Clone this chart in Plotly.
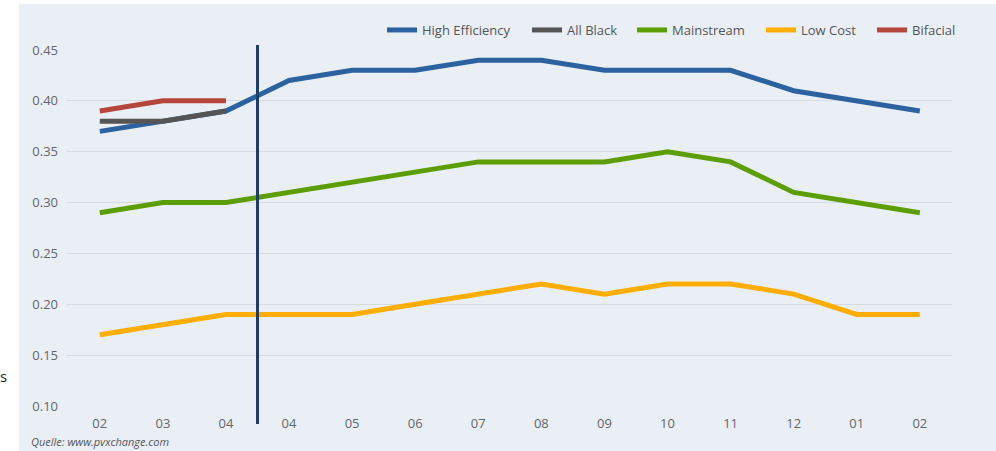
import plotly.graph_objects as go

tick_labels = ["02", "03", "04", "04", "05", "06", "07", "08", "09", "10", "11", "12", "01", "02"]
x_pos = list(range(len(tick_labels)))

high_eff = [0.37, 0.38, 0.39, 0.42, 0.43, 0.43, 0.44, 0.44, 0.43, 0.43, 0.43, 0.41, 0.40, 0.39]
all_black = [0.38, 0.38, 0.39]
mainstream = [0.29, 0.30, 0.30, 0.31, 0.32, 0.33, 0.34, 0.34, 0.34, 0.35, 0.34, 0.31, 0.30, 0.29]
low_cost = [0.17, 0.18, 0.19, 0.19, 0.19, 0.20, 0.21, 0.22, 0.21, 0.22, 0.22, 0.21, 0.19, 0.19]
bifacial = [0.39, 0.40, 0.40]

series = [
    ("High Efficiency", high_eff, "#2d62a0"),
    ("All Black", all_black, "#555555"),
    ("Mainstream", mainstream, "#5c9e00"),
    ("Low Cost", low_cost, "#ffae00"),
    ("Bifacial", bifacial, "#b5463e"),
]
legend_swatch_px = [387, 532, 637, 766, 877]

BG = "#eaeff6"
FONT = "Open Sans"

W, H = 996, 451
L, R, T, B = 67, 44, 50, 45
pw, ph = W - L - R, H - T - B

def px_x(px):
    return (px - L) / pw

def px_y(py):
    return (H - B - py) / ph

fig = go.Figure()
legend_layouts = {}
for i, (name, vals, col) in enumerate(series):
    lname = "legend" if i == 0 else f"legend{i + 1}"
    fig.add_trace(go.Scatter(
        x=x_pos[:len(vals)], y=vals, name=name, mode="lines",
        line=dict(color=col, width=5), legend=lname,
    ))
    legend_layouts[lname] = dict(
        orientation="h", x=px_x(legend_swatch_px[i] - 5), xanchor="left",
        y=px_y(30), yanchor="middle",
        font=dict(family=FONT, size=13, color="#555555"),
        bgcolor="rgba(0,0,0,0)", itemwidth=30,
    )

# white strips outside the panel
fig.add_shape(type="rect", xref="paper", yref="paper",
              x0=px_x(0), x1=px_x(19), y0=px_y(H), y1=px_y(0),
              fillcolor="white", line_width=0, layer="below")
fig.add_shape(type="rect", xref="paper", yref="paper",
              x0=px_x(0), x1=px_x(W), y0=px_y(4), y1=px_y(0),
              fillcolor="white", line_width=0, layer="below")

# vertical separator
fig.add_shape(type="line", xref="x", yref="paper",
              x0=2.5, x1=2.5, y0=px_y(424), y1=px_y(45),
              line=dict(color="#1d3d6b", width=3))

fig.add_annotation(text="<i>Quelle: www.pvxchange.com</i>", xref="paper", yref="paper",
                   x=px_x(29), y=px_y(441), xanchor="left", yanchor="middle",
                   showarrow=False, font=dict(family=FONT, size=11, color="#555555"))
fig.add_annotation(text="s", xref="paper", yref="paper",
                   x=px_x(-2), y=px_y(376), xanchor="left", yanchor="middle",
                   showarrow=False, font=dict(family=FONT, size=15, color="#222222"))

fig.update_layout(
    width=W, height=H,
    margin=dict(l=L, r=R, t=T, b=B),
    paper_bgcolor=BG, plot_bgcolor=BG,
    font=dict(family=FONT, size=13, color="#666666"),
    showlegend=True,
    xaxis=dict(range=[-0.52, 13.51], tickvals=x_pos, ticktext=tick_labels,
               showgrid=False, zeroline=False, showline=False, ticks="",
               ticklabelstandoff=8, tickfont=dict(size=13, color="#666666")),
    yaxis=dict(range=[0.10, 0.45], tickvals=[0.10, 0.15, 0.20, 0.25, 0.30, 0.35, 0.40, 0.45],
               tickformat=".2f", showgrid=True, gridcolor="#d6dbe2", gridwidth=1,
               zeroline=False, showline=False, ticks="", ticklabelstandoff=8,
               tickfont=dict(size=13, color="#666666")),
    **legend_layouts,
)

fig.write_html("out.html")
